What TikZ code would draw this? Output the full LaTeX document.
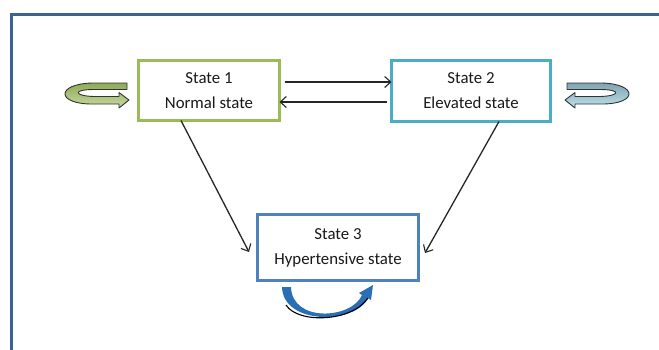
\documentclass[tikz,border=0pt]{standalone}
\usepackage{fontspec}
\setmainfont{Carlito}
\usetikzlibrary{arrows.meta}
\definecolor{frameblue}{HTML}{3A6391}
\definecolor{sgreen}{HTML}{9BBB59}
\definecolor{scyan}{HTML}{4BACC6}
\definecolor{sblue}{HTML}{4F81BD}
\definecolor{lgreenA}{HTML}{C9DBA0}
\definecolor{lgreenB}{HTML}{8EAA58}
\definecolor{lcyanA}{HTML}{BFE3EC}
\definecolor{lcyanB}{HTML}{7FA3B0}
\definecolor{loopblue}{HTML}{2A6FB5}
\begin{document}
\begin{tikzpicture}[x=1pt,y=-1pt,
  statebox/.style={draw,line width=3pt,fill=white,minimum width=#1,inner sep=0pt,outer sep=0pt,align=center,
     font=\fontsize{16.8}{25}\selectfont,text=black!90},
  arr/.style={-{Straight Barb[length=6pt,width=11pt,line width=1.1pt]},line width=1.3pt,draw=black!85},
  loopline/.style={draw=black!80,line width=0.9pt,line join=round}]
\useasboundingbox (0,0) rectangle (659,349);
% frame
\draw[frameblue,line width=3pt] (11.5,352) -- (11.5,14.5) -- (662,14.5);
% boxes
\node[statebox=141pt,draw=sgreen,minimum height=60pt] (s1) at (209,90.5) {State 1\\Normal state};
\node[statebox=159pt,draw=scyan,minimum height=61pt] (s2) at (471,91) {State 2\\Elevated state};
\node[statebox=161pt,draw=sblue,minimum height=66pt] (s3) at (338,247.5) {State 3\\Hypertensive state};
% helper coordinates
\coordinate (h1) at (0,82);
\coordinate (h2) at (0,102);
\coordinate (d1) at (181,0);
\coordinate (d2) at (499,0);
\coordinate (t1) at (249,252);
\coordinate (t2) at (425,253);
% connectors
\draw[arr,shorten <=5pt] (s1.east |- h1) -- (s2.west |- h1);
\draw[arr,shorten <=5pt] (s2.west |- h2) -- (s1.east |- h2);
\draw[arr] (s1.south -| d1) -- (t1);
\draw[arr] (s2.south -| d2) -- (t2);
% left self loop (green)
\path[loopline,left color=lgreenB,right color=lgreenA,shading angle=0]
  (127,83) -- (92,83) .. controls (56,84) and (56,104) .. (92,104) -- (119,104)
  -- (119,108) -- (129,100) -- (119,92.5) -- (119,96.5) -- (94,96.5)
  .. controls (74,96) and (72,89.5) .. (94,89.5) -- (127,89.5) -- cycle;
% right self loop (cyan)
\path[loopline,top color=lcyanB,bottom color=lcyanA]
  (567,83) -- (602,83) .. controls (638,84) and (638,104) .. (602,104) -- (575,104)
  -- (575,108) -- (565,100) -- (575,92.5) -- (575,96.5) -- (600,96.5)
  .. controls (620,96) and (622,89.5) .. (600,89.5) -- (567,89.5) -- cycle;
% bottom self loop (blue)
\fill[loopblue] (282,287) -- (291,287) .. controls (292,323) and (352,319) .. (362,295)
  -- (359,293) -- (373,285) -- (371,300) -- (368,298)
  .. controls (355,325) and (283,325) .. (282,287) -- cycle;
\draw[black,line width=1.1pt] (286,305) .. controls (298,324) and (352,322) .. (368,298);
\end{tikzpicture}
\end{document}
